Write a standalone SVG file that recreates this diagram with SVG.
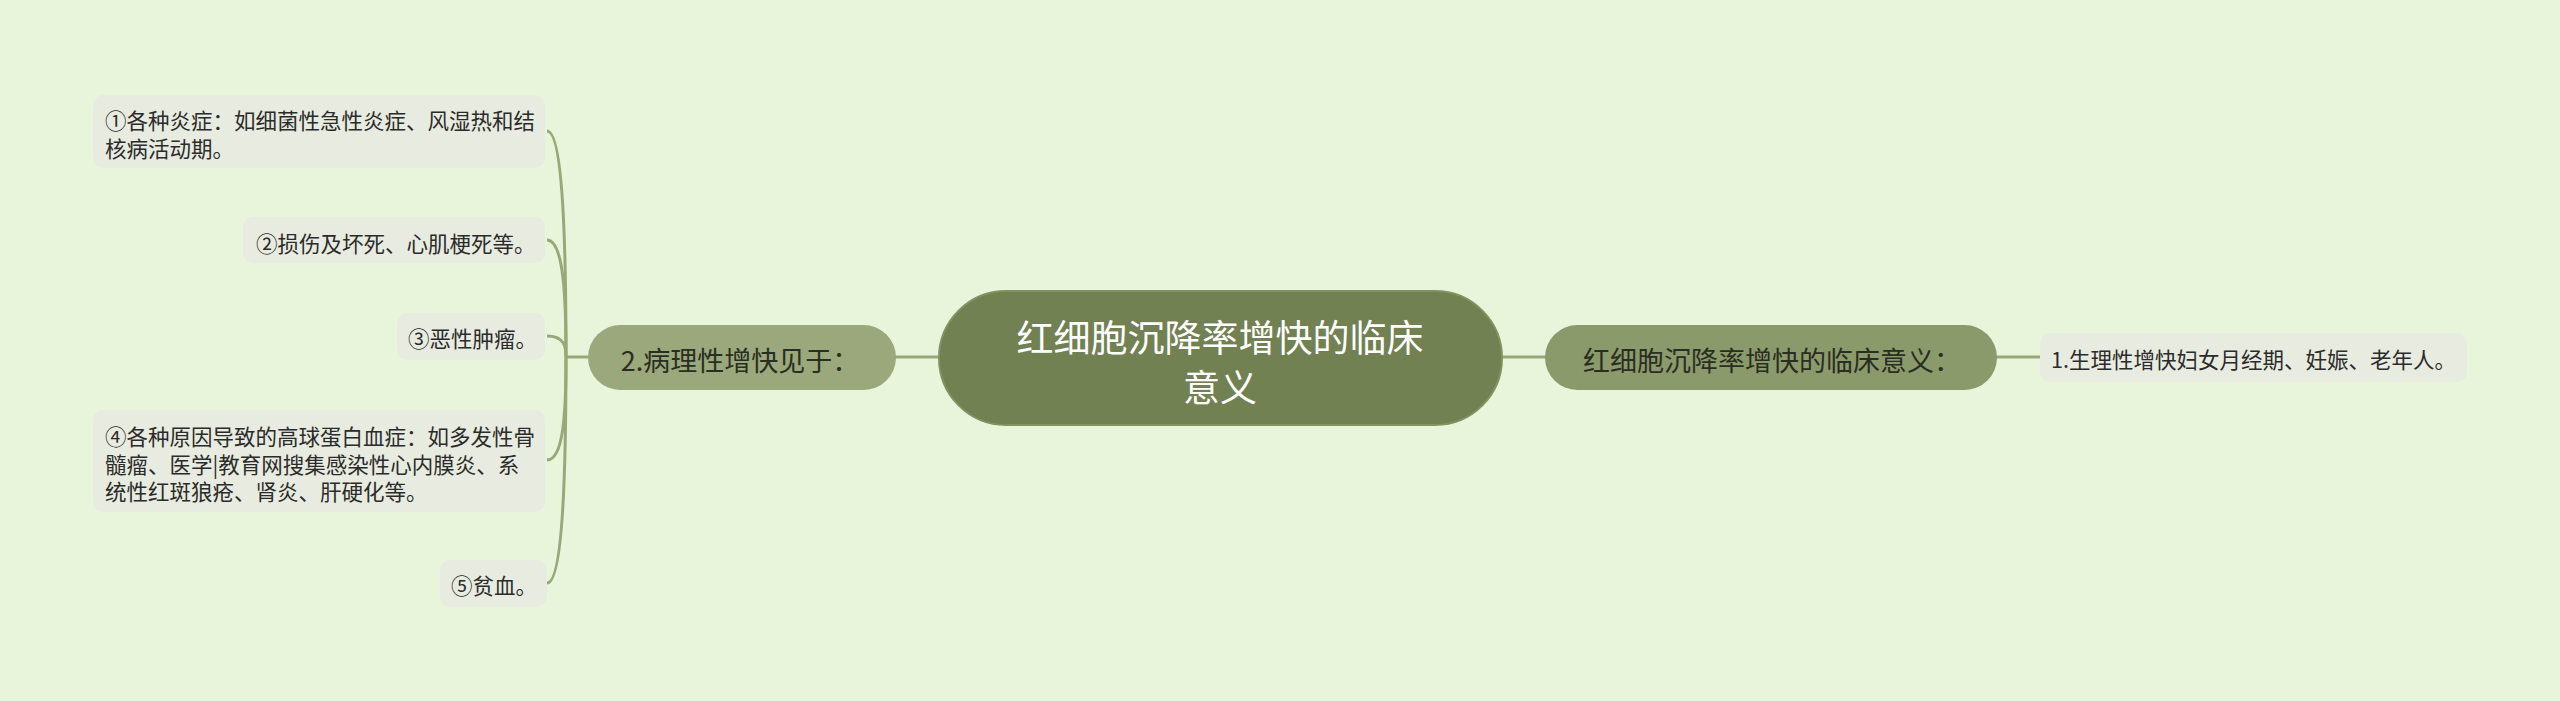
<svg xmlns="http://www.w3.org/2000/svg" width="2560" height="701" viewBox="0 0 2560 701">
<style>
.bg{fill:#E8F5DB}
.conn{fill:none;stroke:#98A879;stroke-width:3}
.root{fill:#728152;stroke:#83925f;stroke-width:2}
.l2a{fill:#9AA87B}
.l2b{fill:#8B9A6B}
.leaf{fill:#E8ECE0}
text{font-family:"Noto Sans CJK SC","Noto Sans",sans-serif;dominant-baseline:central}
.tr{fill:#ffffff;font-size:37px;text-anchor:middle}
.t2{fill:#2a2d22;font-size:27px;text-anchor:middle}
.tl{fill:#2b2b2b;font-size:21.5px}
</style>
<rect class="bg" x="0" y="0" width="2560" height="701"/>
<g id="connectors">
<line class="conn" x1="895" y1="357" x2="940" y2="357"/>
<line class="conn" x1="1500" y1="357" x2="1546" y2="357"/>
<line class="conn" x1="1996" y1="357" x2="2041" y2="357"/>
<line class="conn" x1="566" y1="357" x2="589" y2="357"/>
<path class="conn" d="M566 357 C566 244 563 131 547 131"/>
<path class="conn" d="M566 357 C566 300 564 240 547 240"/>
<path class="conn" d="M566 357 C566 346 564 336 547 336"/>
<path class="conn" d="M566 357 C566 410 564 460 547 460"/>
<path class="conn" d="M566 357 C566 470 563 583 547 583"/>
</g>
<g id="root">
<rect class="root" x="939" y="291" width="563" height="134" rx="67"/>
<text class="tr" x="1220" y="336">红细胞沉降率增快的临床</text>
<text class="tr" x="1220" y="386">意义</text>
</g>
<g id="node-left">
<rect class="l2a" x="588" y="325" width="308" height="65" rx="32.5"/>
<text class="t2" x="740" y="359">2.病理性增快见于：</text>
</g>
<g id="node-right">
<rect class="l2b" x="1545" y="325" width="452" height="65" rx="32.5"/>
<text class="t2" x="1772" y="359">红细胞沉降率增快的临床意义：</text>
</g>
<g id="leaf-r1">
<rect class="leaf" x="2040" y="333" width="427" height="49" rx="10"/>
<text class="tl" x="2051" y="358">1.生理性增快妇女月经期、妊娠、老年人。</text>
</g>
<g id="leaf-1">
<rect class="leaf" x="93" y="95" width="452" height="73" rx="10"/>
<text class="tl" x="105" y="119">①各种炎症：如细菌性急性炎症、风湿热和结</text>
<text class="tl" x="105" y="147">核病活动期。</text>
</g>
<g id="leaf-2">
<rect class="leaf" x="243" y="217" width="302" height="46" rx="10"/>
<text class="tl" x="256" y="242">②损伤及坏死、心肌梗死等。</text>
</g>
<g id="leaf-3">
<rect class="leaf" x="397" y="313" width="148" height="47" rx="10"/>
<text class="tl" x="408" y="337">③恶性肿瘤。</text>
</g>
<g id="leaf-4">
<rect class="leaf" x="93" y="410" width="452" height="102" rx="10"/>
<text class="tl" x="105" y="435">④各种原因导致的高球蛋白血症：如多发性骨</text>
<text class="tl" x="105" y="463">髓瘤、医学|教育网搜集感染性心内膜炎、系</text>
<text class="tl" x="105" y="490">统性红斑狼疮、肾炎、肝硬化等。</text>
</g>
<g id="leaf-5">
<rect class="leaf" x="440" y="560" width="107" height="47" rx="10"/>
<text class="tl" x="451" y="584">⑤贫血。</text>
</g>
</svg>
